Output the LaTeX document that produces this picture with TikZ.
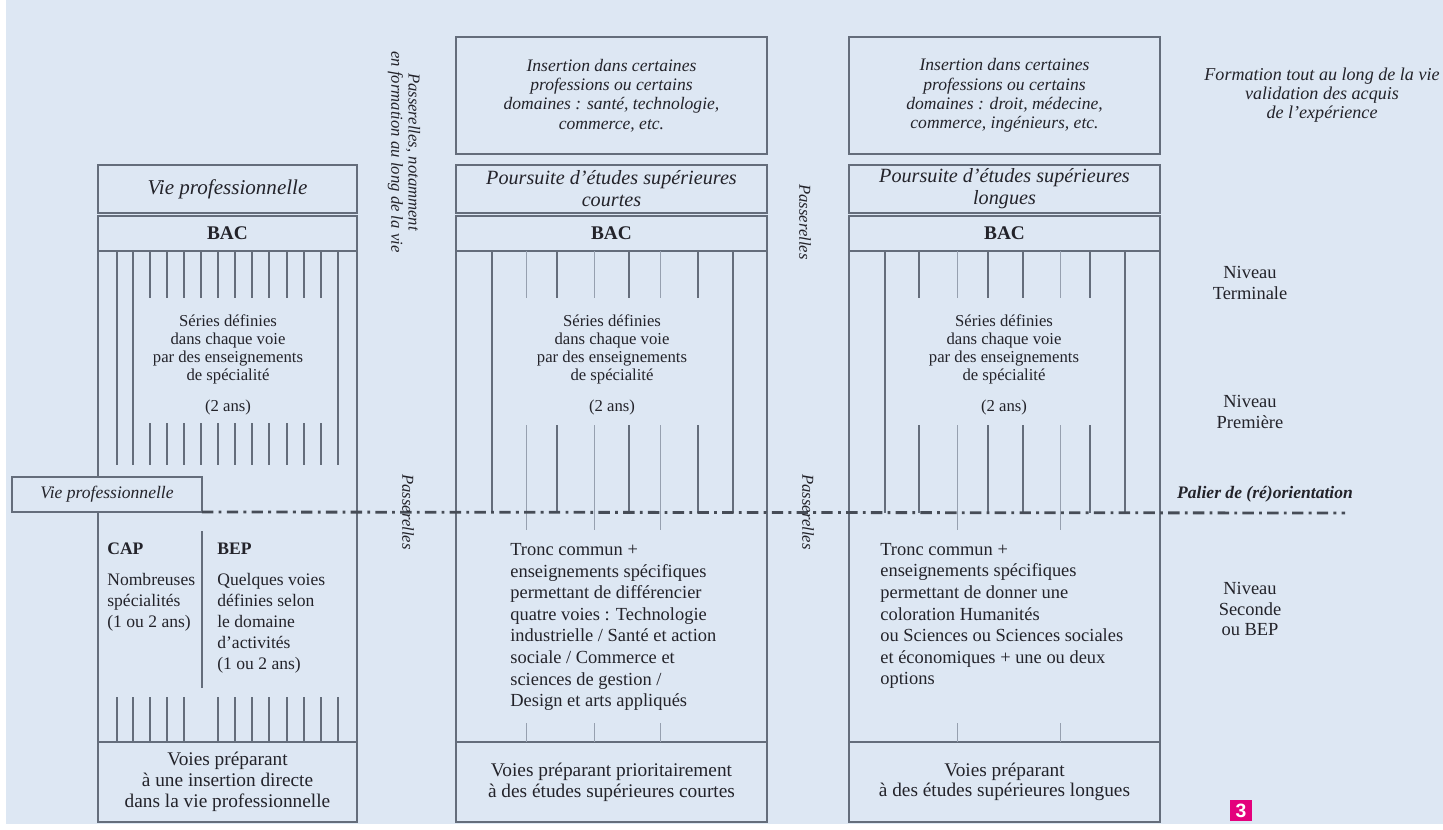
\documentclass[tikz,border=0pt]{standalone}
\usepackage{fontspec}
\setmainfont{Liberation Serif}
\setsansfont{Liberation Sans}
\usepackage{tikz}
\usetikzlibrary{positioning}
\definecolor{fond}{RGB}{221,231,243}
\definecolor{trait}{RGB}{100,109,123}
\definecolor{clair}{RGB}{150,160,175}
\definecolor{encre}{RGB}{35,35,42}
\definecolor{rose}{RGB}{228,0,124}
\tikzstyle{cadre}=[draw=trait,line width=1.2pt,inner sep=0pt,outer sep=0pt,text=encre,align=center]
\tikzstyle{large1}=[minimum width=5.18cm]
\tikzstyle{large23}=[minimum width=6.22cm]
\tikzstyle{haut}=[font=\itshape\fontsize{10}{11}\selectfont]
\tikzstyle{titre}=[font=\itshape\fontsize{11.5}{12.5}\selectfont]
\tikzstyle{bac}=[minimum height=0.70cm,font=\bfseries\fontsize{11}{13}\selectfont]
\tikzstyle{bas}=[minimum height=1.6cm,font=\fontsize{11}{11.9}\selectfont]
\tikzstyle{texte}=[text=encre,align=center,inner sep=0pt]
\tikzstyle{series}=[texte,font=\fontsize{9.5}{10.2}\selectfont]
\tikzstyle{tronc}=[texte,align=left,anchor=west,font=\fontsize{10.5}{12.3}\selectfont]
\tikzstyle{niveau}=[texte,font=\fontsize{10.5}{11.9}\selectfont]
\tikzstyle{passerelle}=[texte,rotate=-90,font=\itshape\fontsize{9.5}{9.8}\selectfont]
\tikzstyle{barre}=[draw=trait,line width=0.8pt]
\tikzstyle{barreclaire}=[draw=clair,line width=0.5pt]
\tikzstyle{palier}=[draw=trait!70!black,line width=1.6pt,dash pattern=on 6.5pt off 3pt on 1.6pt off 3pt]

\begin{document}
\begin{tikzpicture}[x=0.02cm,y=-0.02cm]
    % fond
    \fill[white] (0,0) rectangle (1443,829);
    \fill[fond] (6,0) rectangle (1443,824);
    \useasboundingbox (0,0) rectangle (1443,829);

    % voie professionnelle
    \node[cadre,large1,minimum height=0.96cm,titre,font=\itshape\fontsize{12}{14}\selectfont] (vie_1) at (227.5,189) {Vie professionnelle};
    \node[cadre,large1,bac] (bac_1) [below=0.06cm of vie_1] {BAC};
    \node[cadre,large1,minimum height=9.82cm] (voie_1) [below=0pt of bac_1] {};
    \node[cadre,large1,bas] (prep_1) [below=0pt of voie_1] {Voies préparant\\à une insertion directe\\dans la vie professionnelle};

    % voie technologique
    \node[cadre,large23,minimum height=2.34cm,haut] (ins_2) at (611.5,95.5) {Insertion dans certaines\\professions ou certains\\domaines : santé, technologie,\\commerce, etc.};
    \node[cadre,large23,minimum height=0.96cm,titre] (pours_2) at (611.5,189) {Poursuite d'études supérieures\\courtes};
    \node[cadre,large23,bac] (bac_2) [below=0.06cm of pours_2] {BAC};
    \node[cadre,large23,minimum height=9.82cm] (voie_2) [below=0pt of bac_2] {};
    \node[cadre,large23,bas] (prep_2) [below=0pt of voie_2] {Voies préparant prioritairement\\à des études supérieures courtes};

    % voie generale
    \node[cadre,large23,minimum height=2.34cm,haut] (ins_3) at (1004.5,95.5) {Insertion dans certaines\\professions ou certains\\domaines : droit, médecine,\\commerce, ingénieurs, etc.};
    \node[cadre,large23,minimum height=0.96cm,titre] (pours_3) at (1004.5,189) {Poursuite d'études supérieures\\longues};
    \node[cadre,large23,bac] (bac_3) [below=0.06cm of pours_3] {BAC};
    \node[cadre,large23,minimum height=9.82cm] (voie_3) [below=0pt of bac_3] {};
    \node[cadre,large23,bas] (prep_3) [below=0pt of voie_3] {Voies préparant\\à des études supérieures longues};

    % series
    \foreach \x in {117,133,338} \draw[barre] (\x,251) -- (\x,465);
    \foreach \x in {150,167,184,201,218,235,252,269,287,304,321} {
        \draw[barre] (\x,251) -- (\x,298);
        \draw[barre] (\x,423) -- (\x,465);
    }
    \foreach \x in {117,133,150,167,184,218,235,252,269,287,304,321,338} \draw[barre] (\x,697) -- (\x,742);
    \draw[barre] (202,531) -- (202,688);

    \foreach \x in {492,733,885,1125} \draw[barre] (\x,251) -- (\x,513);
    \foreach \x in {557,629,698,919,988,1023,1090} {
        \draw[barre] (\x,251) -- (\x,298);
        \draw[barre] (\x,425) -- (\x,513);
    }
    \foreach \x in {526,594,660,957,1060} {
        \draw[barreclaire] (\x,251) -- (\x,298);
        \draw[barreclaire] (\x,425) -- (\x,530);
        \draw[barreclaire] (\x,723) -- (\x,742);
    }

    \node[series] (series_1) at (228,365) {Séries définies\\dans chaque voie\\par des enseignements\\de spécialité\\[8pt](2 ans)};
    \node[series] (series_2) at (612,365) {Séries définies\\dans chaque voie\\par des enseignements\\de spécialité\\[8pt](2 ans)};
    \node[series] (series_3) at (1004,365) {Séries définies\\dans chaque voie\\par des enseignements\\de spécialité\\[8pt](2 ans)};

    % seconde
    \node[texte,anchor=west,font=\bfseries\fontsize{10}{12}\selectfont] (cap) at (107,549) {CAP};
    \node[texte,anchor=north west,align=left,font=\fontsize{10}{11.9}\selectfont] (cap_t) at (107,573) {Nombreuses\\spécialités\\(1 ou 2 ans)};
    \node[texte,anchor=west,font=\bfseries\fontsize{10}{12}\selectfont] (bep) at (217,549) {BEP};
    \node[texte,anchor=north west,align=left,font=\fontsize{10}{11.9}\selectfont] (bep_t) at (217,573) {Quelques voies\\définies selon\\le domaine\\d'activités\\(1 ou 2 ans)};
    \node[tronc] (tronc_2) at (510,627) {Tronc commun +\\enseignements spécifiques\\permettant de différencier\\quatre voies : Technologie\\industrielle / Santé et action\\sociale / Commerce et\\sciences de gestion /\\Design et arts appliqués};
    \node[tronc] (tronc_3) at (880,616) {Tronc commun +\\enseignements spécifiques\\permettant de donner une\\coloration Humanités\\ou Sciences ou Sciences sociales\\et économiques + une ou deux\\options};

    % palier
    \node[cadre,fill=fond,minimum width=3.8cm,minimum height=0.7cm,font=\itshape\fontsize{10}{12}\selectfont] (vpro) at (107,494.5) {Vie professionnelle};
    \coordinate (fin) at (1345,513);
    \draw[palier] (vpro.south east) -- (fin);

    % passerelles
    \node[passerelle] (pass_a) at (404,152) {Passerelles, notamment\\en formation au long de la vie};
    \node[passerelle] (pass_b) at (805,222) {Passerelles};
    \node[passerelle] (pass_c) at (408,512) {Passerelles};
    \node[passerelle] (pass_d) at (808,512) {Passerelles};

    % niveaux
    \node[texte,font=\itshape\fontsize{10.3}{11}\selectfont] (formation) at (1322,95) {Formation tout au long de la vie\\validation des acquis\\de l'expérience};
    \node[niveau] (term) at (1250,283) {Niveau\\Terminale};
    \node[niveau] (prem) at (1250,412) {Niveau\\Première};
    \node[texte,font=\bfseries\itshape\fontsize{10}{12}\selectfont] (palier) at (1265,494) {Palier de (ré)orientation};
    \node[niveau] (seconde) at (1250,609) {Niveau\\Seconde\\ou BEP};

    \node[fill=rose,minimum width=0.44cm,minimum height=0.42cm,inner sep=0pt,text=white,font=\sffamily\bfseries\fontsize{11}{12}\selectfont] (num) at (1241,810.5) {3};
\end{tikzpicture}
\end{document}
